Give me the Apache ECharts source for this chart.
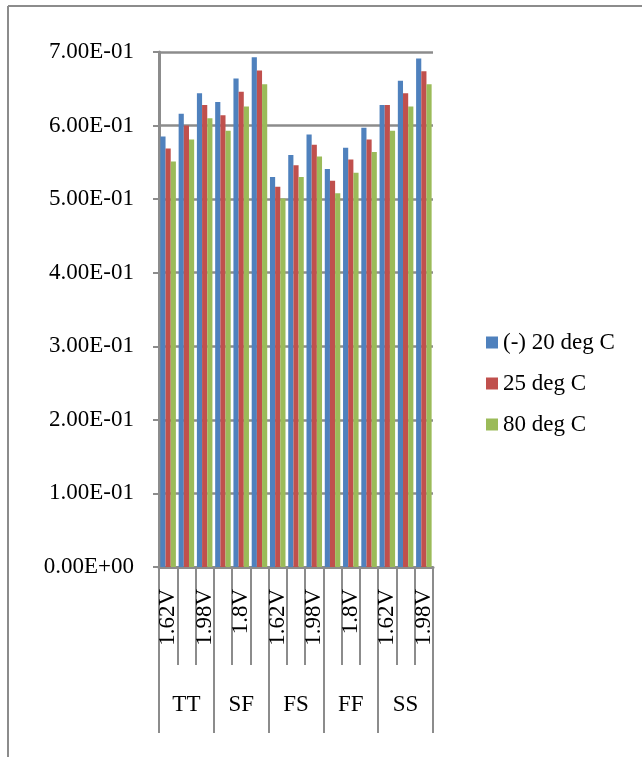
<!DOCTYPE html>
<html>
<head>
<meta charset="utf-8">
<script src="https://cdn.jsdelivr.net/npm/echarts@6/dist/echarts.min.js"></script>
<style>
html,body{margin:0;padding:0;background:#fff;}
#c{width:642px;height:757px;}
</style>
</head>
<body>
<div id="c"></div>
<script>
const corners = ['TT', 'SF', 'FS', 'FF', 'SS'];
const voltages = ['1.62V', '1.8V', '1.98V'];
const seriesNames = ['(-) 20 deg C', '25 deg C', '80 deg C'];
const valuesMinus20 = [0.585, 0.616, 0.644, 0.632, 0.664, 0.693, 0.530, 0.560, 0.588, 0.541, 0.570, 0.597, 0.628, 0.661, 0.691];
const values25 = [0.569, 0.600, 0.628, 0.614, 0.646, 0.675, 0.517, 0.546, 0.574, 0.525, 0.554, 0.581, 0.628, 0.644, 0.674];
const values80 = [0.551, 0.581, 0.610, 0.593, 0.626, 0.656, 0.501, 0.530, 0.558, 0.508, 0.536, 0.564, 0.593, 0.626, 0.656];
const yTicks = { min: 0, max: 0.7, interval: 0.1 };

const categories = [];
corners.forEach(c => voltages.forEach(v => categories.push(c + '|' + v)));

const FONT = 'Liberation Serif';
const FS = 23;
const GRAY = '#8c8c8c';
const colors = ['#4F81BD', '#C0504D', '#9BBB59'];

function fmtExp(v) {
  const s = Number(v).toExponential(2);
  const parts = s.split('e');
  let exp = parts[1];
  const sign = exp[0] === '-' ? '-' : '+';
  let digits = exp.replace(/[+-]/, '');
  if (digits.length < 2) digits = '0' + digits;
  return parts[0] + 'E' + sign + digits;
}

const chart = echarts.init(document.getElementById('c'), null, { renderer: 'canvas' });
const dataSets = [valuesMinus20, values25, values80];

chart.setOption({
  animation: false,
  backgroundColor: '#fff',
  textStyle: { fontFamily: FONT, color: '#000' },
  grid: { left: 159, right: 209, top: 52, bottom: 190, containLabel: false },
  legend: {
    orient: 'vertical',
    left: 481,
    top: 326,
    itemWidth: 12,
    itemHeight: 12,
    itemGap: 18,
    icon: 'rect',
    textStyle: { fontFamily: FONT, fontSize: FS, color: '#000', padding: [0, 0, 0, 0] },
    data: seriesNames
  },
  xAxis: [
    {
      type: 'category',
      data: categories,
      position: 'bottom',
      boundaryGap: true,
      axisLine: { show: true, lineStyle: { color: GRAY, width: 3 } },
      axisTick: { show: true, interval: 0, length: 98, lineStyle: { color: GRAY, width: 2 } },
      axisLabel: {
        interval: 1,
        rotate: 90,
        margin: 22,
        fontFamily: FONT,
        fontSize: FS,
        color: '#000',
        formatter: v => v.split('|')[1]
      },
      splitLine: { show: false }
    },
    {
      type: 'category',
      data: corners,
      position: 'bottom',
      offset: 0,
      boundaryGap: true,
      axisLine: { show: false },
      axisTick: { show: true, interval: 0, length: 166, lineStyle: { color: GRAY, width: 2 } },
      axisLabel: {
        interval: 0,
        margin: 126,
        fontFamily: FONT,
        fontSize: FS,
        color: '#000'
      },
      splitLine: { show: false }
    }
  ],
  yAxis: {
    type: 'value',
    min: yTicks.min,
    max: yTicks.max,
    interval: yTicks.interval,
    axisLine: { show: true, lineStyle: { color: GRAY, width: 3 } },
    axisTick: { show: true, length: 6, lineStyle: { color: GRAY, width: 2 } },
    axisLabel: { margin: 25, fontFamily: FONT, fontSize: FS, color: '#000', formatter: fmtExp },
    splitLine: { show: true, lineStyle: { color: GRAY, width: 2.5 } }
  },
  series: seriesNames.map((n, i) => ({
    name: n,
    type: 'bar',
    xAxisIndex: 0,
    data: dataSets[i],
    barGap: '0%',
    barCategoryGap: '15%',
    itemStyle: { color: colors[i] }
  })),
  graphic: [
    { type: 'line', shape: { x1: 8, y1: 6, x2: 642, y2: 6 }, style: { stroke: GRAY, lineWidth: 2 } },
    { type: 'line', shape: { x1: 8, y1: 6, x2: 8, y2: 757 }, style: { stroke: GRAY, lineWidth: 2 } }
  ]
});
</script>
</body>
</html>
